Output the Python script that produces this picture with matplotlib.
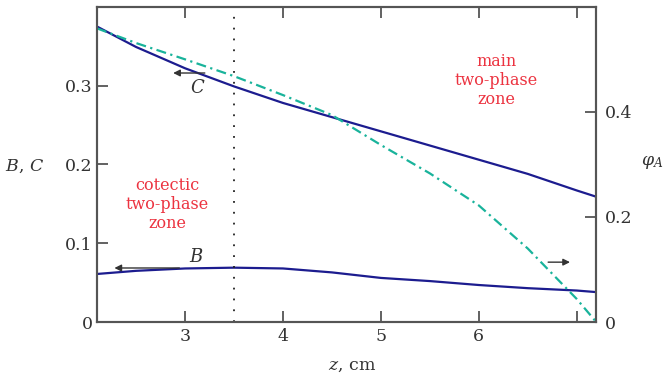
import matplotlib.pyplot as plt

# data
z = [2.1, 2.5, 3.0, 3.5, 4.0, 4.5, 5.0, 5.5, 6.0, 6.5, 7.0, 7.2]
C = [0.375, 0.349, 0.322, 0.299, 0.278, 0.260, 0.242, 0.224, 0.206, 0.188, 0.167, 0.159]
B = [0.061, 0.065, 0.068, 0.069, 0.068, 0.063, 0.056, 0.052, 0.047, 0.043, 0.040, 0.038]
phiA = [0.559, 0.531, 0.500, 0.468, 0.432, 0.394, 0.337, 0.283, 0.222, 0.140, 0.044, 0.0]
z_boundary = 3.5

xticks = [3, 4, 5, 6, 7]
xticklabels = ["3", "4", "5", "6", ""]
yticks_left = [0, 0.1, 0.2, 0.3]
yticklabels_left = ["0", "0.1", "0.2", "0.3"]
yticks_right = [0, 0.2, 0.4]
yticklabels_right = ["0", "0.2", "0.4"]

blue = "#1c1c8f"
green = "#19b39b"
red = "#ec3340"
grey = "#555555"
txt = "#333333"

plt.rcParams["font.family"] = ["DejaVu Serif"]
plt.rcParams["mathtext.fontset"] = "dejavuserif"
plt.rcParams["font.size"] = 12.5

fig = plt.figure(figsize=(6.64, 3.78), dpi=100)
ax = fig.add_axes([0.146, 0.148, 0.752, 0.834])
ax2 = ax.twinx()

ax.plot(z, C, color=blue, lw=1.6)
ax.plot(z, B, color=blue, lw=1.6)
ax2.plot(z, phiA, color=green, lw=1.6, linestyle=(0, (4.5, 2, 1, 2)))
ax.axvline(z_boundary, color="#222222", lw=1.3, linestyle=(0, (1, 5)))

ax.set_xlim(2.1, 7.2)
ax.set_ylim(0, 0.40)
ax2.set_ylim(0, 0.6)

ax.set_xticks(xticks)
ax.set_xticklabels(xticklabels)
ax.set_yticks(yticks_left)
ax.set_yticklabels(yticklabels_left)
ax2.set_yticks(yticks_right)
ax2.set_yticklabels(yticklabels_right)

ax.tick_params(axis="x", direction="in", top=True, length=8, width=1.3,
               color=grey, labelcolor=txt, pad=4)
ax.tick_params(axis="y", direction="in", length=8, width=1.3,
               color=grey, labelcolor=txt, pad=3)
ax2.tick_params(axis="y", direction="in", length=8, width=1.3,
                color=grey, labelcolor=txt, pad=6)
for a in (ax, ax2):
    for s in a.spines.values():
        s.set_color(grey)
        s.set_linewidth(1.5)

# labels
fig.text(25 / 664, 1 - 166 / 378, "$B$, $C$", ha="center", va="center",
         color=txt, fontsize=12.5)
fig.text(652 / 664, 1 - 163 / 378, r"$\varphi_A$", ha="center", va="center",
         color=txt, fontsize=12.5)
fig.text(352 / 664, 1 - 366 / 378, "$z$, cm", ha="center", va="center",
         color=txt, fontsize=12.5)

ax.text(2.82, 0.149, "cotectic\ntwo-phase\nzone", color=red, ha="center",
        va="center", linespacing=1.15, fontsize=11.5)
ax.text(6.18, 0.307, "main\ntwo-phase\nzone", color=red, ha="center",
        va="center", linespacing=1.15, fontsize=11.5)

ax.text(3.13, 0.297, "$C$", color=txt, ha="center", va="center", fontsize=13)
ax.text(3.12, 0.083, "$B$", color=txt, ha="center", va="center", fontsize=13)

arrow = dict(arrowstyle="-|>", color="#333333", lw=1.0, mutation_scale=10)
ax.annotate("", xy=(2.85, 0.316), xytext=(3.23, 0.316), arrowprops=arrow)
ax.annotate("", xy=(2.25, 0.0686), xytext=(2.97, 0.0686), arrowprops=arrow)
ax.annotate("", xy=(6.96, 0.076), xytext=(6.68, 0.076), arrowprops=arrow)

fig.savefig("out.png", dpi=100)
